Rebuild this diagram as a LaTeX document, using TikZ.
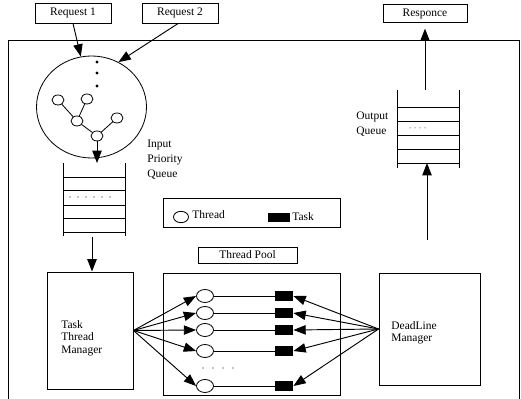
\documentclass[tikz,border=0pt]{standalone}
\usepackage{fontspec}
\setmainfont{Liberation Serif}
\usetikzlibrary{shapes.geometric, arrows.meta, positioning}

\begin{document}
\begin{tikzpicture}[
    x=0.03cm, y=-0.03cm,
    line width=0.7pt,
    box/.style={rectangle, draw, line width=0.8pt},
    tag/.style={box, minimum height=0.6cm, minimum width=2.28cm, inner sep=1pt},
    leaf/.style={ellipse, draw, fill=white, minimum width=0.36cm, minimum height=0.3cm, inner sep=0pt},
    thread/.style={ellipse, draw, minimum width=0.51cm, minimum height=0.39cm, inner sep=0pt},
    task/.style={rectangle, fill=black, minimum width=0.54cm, minimum height=0.3cm, inner sep=0pt},
    arrow/.style={-{Triangle[length=10.5pt, width=8pt]}, line width=0.8pt},
    txt/.style={font=\fontsize{9.8}{10.6}\selectfont, align=left, anchor=west, inner sep=0pt},
    qtxt/.style={txt, font=\fontsize{9.8}{12.75}\selectfont},
    every node/.append style={font=\fontsize{9.8}{11}\selectfont}
]
    \useasboundingbox (0,0) rectangle (521,399);

    % System frame
    \draw[line width=0.8pt] (8,405) -- (8,40) -- (519,40) -- (519,405);

    % Requests and response
    \node[tag] (r1) at (73,13) {Request 1};
    \node[tag] (r2) at (180,13) {Request 2};
    \node[tag, minimum width=2.52cm, minimum height=0.52cm] (resp) at (425,13.5) {Responce};

    % Priority tree
    \node[ellipse, draw, minimum width=3.3cm, minimum height=3.06cm] (pq) at (91.5,107) {};
    \foreach \y in {62,73,86} \fill (97,\y) circle (1.6);
    \node[leaf] (t1) at (58,100) {};
    \node[leaf] (t2) at (87,99) {};
    \node[leaf] (t3) at (77,121) {};
    \node[leaf] (t4) at (117,118) {};
    \node[leaf] (t5) at (97,136) {};
    \draw (t1) -- (t3) (t2) -- (t3) (t3) -- (t5) (t4) -- (t5);
    \draw[arrow] (r1.south) -- (pq.102);
    \draw[arrow] (r2.-100) -- (pq.59);

    % Input priority queue
    \draw (63,163) -- (63,236) (125,163) -- (125,236);
    \foreach \y in {177,190,205,218,232} \draw (63,\y) -- (125,\y);
    \foreach \x in {70,78,...,110} \fill (\x,197) circle (0.6);
    \coordinate (iqtop) at (97,163);
    \coordinate (iqbot) at (92,237);
    \node[qtxt] (iqlabel) at (147,160) {Input\\Priority\\Queue};
    \draw[arrow] (t5) -- (iqtop);

    % Output queue
    \draw (397,90) -- (397,168) (459,90) -- (459,168);
    \foreach \y in {107,121,135,149,163} \draw (397,\y) -- (459,\y);
    \foreach \x in {410,415,...,426} \fill (\x,128) circle (0.5);
    \coordinate (oqtop) at (425,90);
    \coordinate (oqbot) at (427,163);
    \coordinate (dlup) at (427,240);
    \node[qtxt] (oqlabel) at (356,124.5) {Output\\Queue};
    \draw[arrow, shorten >=0.18cm] (oqtop) -- (resp.south);

    % Legend
    \node[box, minimum width=5.31cm, minimum height=0.87cm] (legend) at (251.5,212.5) {};
    \node[thread, minimum width=0.45cm, minimum height=0.34cm] (legthread) at (181,217) {};
    \node[txt] (legthreadtxt) at (192,215) {Thread};
    \node[task, minimum width=0.66cm, minimum height=0.27cm] (legtask) at (279,217.5) {};
    \node[txt] (legtasktxt) at (292,217) {Task};

    % Managers and pool
    \node[box, minimum width=2.97cm, minimum height=0.48cm, inner sep=1pt] (poollabel) at (247.5,255) {Thread Pool};
    \node[box, minimum width=5.31cm, minimum height=3.66cm] (pool) at (251.5,334) {};
    \node[box, minimum width=2.58cm, minimum height=3.51cm] (ttm) at (90,330.5) {};
    \node[txt] (ttmtxt) at (61,338) {Task\\Thread\\Manager};
    \node[box, minimum width=3.03cm, minimum height=3.36cm] (dl) at (429.5,329) {};
    \node[txt] (dltxt) at (391,333) {DeadLine\\Manager};
    \draw[arrow] (iqbot) -- (iqbot |- ttm.north);
    \draw[arrow] (dlup) -- (oqbot);

    % Threads and tasks
    \foreach \i/\y in {1/296, 2/313, 3/330, 4/351, 5/386} {
        \node[thread] (th\i) at (205,\y) {};
        \node[task] (tk\i) at (284,\y) {};
        \draw[line width=0.5pt] (th\i) -- (tk\i);
        \draw[arrow] (ttm.east) -- (th\i.west);
        \draw[arrow] (dl.west) -- (tk\i.east);
    }
    \foreach \x in {203,213,...,233} \fill (\x,368) circle (0.6);

\end{tikzpicture}
\end{document}
